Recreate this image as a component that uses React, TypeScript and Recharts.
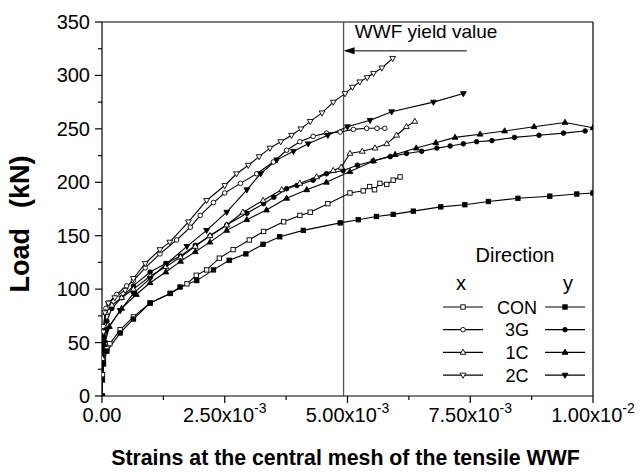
import React from 'react';
import {
  LineChart,
  Line,
  XAxis,
  YAxis,
  ReferenceLine,
  ReferenceDot,
  Legend,
} from 'recharts';

// strains are in units of 10^-3, loads in kN
const conXStrain = [0, 0.01, 0.03, 0.1, 0.16, 0.37, 0.64, 0.98, 1.39, 1.73, 1.92, 2.13, 2.39, 2.67, 3.0, 3.29, 3.7, 4.03, 4.24, 4.6, 5.05, 5.32, 5.45, 5.55, 5.66, 5.8, 5.93, 6.07];
const conXLoad = [0, 20, 35, 45, 49, 62, 74, 87, 96, 105, 113, 118, 129, 137, 146, 154, 163, 169, 172, 180, 190, 192, 196, 193, 199, 198, 202, 205];

const conYStrain = [0, 0.01, 0.03, 0.1, 0.37, 0.64, 0.98, 1.39, 1.59, 1.93, 2.27, 2.59, 2.93, 3.28, 3.62, 4.1, 4.85, 5.22, 5.59, 5.93, 6.34, 6.9, 7.39, 7.87, 8.47, 9.12, 9.67, 10];
const conYLoad = [0, 15, 30, 42, 59, 72, 87, 96, 102, 108, 118, 127, 133, 142, 149, 155, 162, 165, 168, 170, 173, 177, 179, 182, 185, 187, 189, 190];

const g3XStrain = [0, 0.01, 0.03, 0.08, 0.13, 0.3, 0.5, 0.64, 0.88, 1.18, 1.52, 1.8, 2.0, 2.27, 2.5, 2.82, 3.15, 3.49, 3.76, 4.03, 4.3, 4.57, 4.85, 5.12, 5.39, 5.6, 5.76];
const g3XLoad = [0, 35, 65, 82, 87, 95, 103, 108, 120, 133, 146, 158, 169, 181, 190, 199, 208, 219, 230, 238, 243, 246, 247, 249.5, 250.5, 250.5, 250.5];

const g3YStrain = [0, 0.01, 0.04, 0.1, 0.2, 0.4, 0.64, 0.98, 1.3, 1.6, 1.9, 2.2, 2.54, 2.95, 3.29, 3.5, 3.76, 3.97, 4.3, 4.57, 4.91, 5.2, 5.52, 5.87, 6.2, 6.51, 6.82, 7.09, 7.36, 7.63, 7.94, 8.4, 8.9, 9.4, 9.84];
const g3YLoad = [0, 30, 55, 70, 82, 92, 103, 116, 124, 131, 141, 150, 160, 171, 180, 186, 194, 197, 202, 208, 211, 216, 220, 224, 227, 229, 232, 234, 236, 238, 239, 242, 244, 246, 248];

const c1XStrain = [0, 0.01, 0.03, 0.08, 0.2, 0.4, 0.64, 0.98, 1.3, 1.6, 1.9, 2.2, 2.54, 2.87, 3.28, 3.66, 4.03, 4.37, 4.71, 4.87, 5.05, 5.3, 5.56, 5.8, 6.0, 6.2, 6.37];
const c1XLoad = [0, 35, 60, 78, 85, 92, 100, 112, 121, 130, 140, 150, 160, 172, 183, 193, 199, 205, 211, 214, 227, 229, 232, 236, 244, 252, 257];

const c1YStrain = [0, 0.02, 0.05, 0.15, 0.4, 0.7, 0.98, 1.3, 1.6, 1.9, 2.2, 2.54, 2.95, 3.35, 3.76, 4.17, 4.57, 5.05, 5.53, 5.97, 6.4, 6.8, 7.19, 7.7, 8.2, 8.8, 9.43, 10];
const c1YLoad = [0, 30, 48, 65, 82, 95, 106, 116, 126, 135, 144, 155, 165, 174, 185, 193, 200, 210, 220, 226, 232, 237, 242, 245, 248, 252, 256, 251];

const c2XStrain = [0, 0.01, 0.03, 0.06, 0.13, 0.26, 0.47, 0.64, 0.88, 1.18, 1.38, 1.76, 2.13, 2.5, 2.74, 2.98, 3.2, 3.42, 3.64, 3.86, 4.05, 4.24, 4.48, 4.71, 4.95, 5.1, 5.25, 5.4, 5.53, 5.7, 5.92];
const c2XLoad = [0, 30, 60, 78, 87, 92, 99, 110, 124, 137, 144, 163, 183, 197, 208, 216, 224, 232, 238, 244, 250, 257, 265, 275, 283, 289, 294, 298, 302, 307, 316];

const c2YStrain = [0, 0.02, 0.05, 0.1, 0.37, 0.64, 0.98, 1.32, 1.73, 2.13, 2.54, 2.95, 3.23, 3.56, 3.9, 4.2, 4.6, 5.0, 5.46, 5.9, 6.75, 7.36];
const c2YLoad = [0, 30, 50, 62, 80, 96, 110, 124, 140, 155, 172, 193, 208, 221, 229, 236, 244, 252, 258, 266, 275, 283];

const xTicks = [0, 1.25, 2.5, 3.75, 5, 6.25, 7.5, 8.75, 10];
const xMajor = [0, 2.5, 5, 7.5, 10];
const xMajorBase = ['0.00', '2.50x10', '5.00x10', '7.50x10', '1.00x10'];
const xMajorExp = ['', '-3', '-3', '-3', '-2'];

const yTicks = [0, 25, 50, 75, 100, 125, 150, 175, 200, 225, 250, 275, 300, 325, 350];
const yMajor = [0, 50, 100, 150, 200, 250, 300, 350];

const yieldStrain = 4.92;
const yieldArrowLoad = 323;
const yieldArrowEnd = 7.43;
const yieldTextStrain = 5.15;
const yieldTextLoad = 335;

const legendTypes = ['CON', '3G', '1C', '2C'];
const legendShapes = ['square', 'circle', 'up', 'down'];

const FONT = '"Liberation Sans", Arial, sans-serif';

const toPoints = (s: number[], l: number[]) => s.map((v, i) => ({ s: v, load: l[i] }));

const Marker = ({ cx, cy, shape, filled }: any) => {
  const fill = filled ? '#000' : '#fff';
  if (shape === 'square') {
    return <rect x={cx - 2.2} y={cy - 2.2} width={4.4} height={4.4} fill={fill} stroke="#000" strokeWidth={0.9} />;
  }
  if (shape === 'circle') {
    return <circle cx={cx} cy={cy} r={2.3} fill={fill} stroke="#000" strokeWidth={0.9} />;
  }
  if (shape === 'up') {
    return <path d={`M${cx},${cy - 3.2}L${cx + 2.9},${cy + 1.9}L${cx - 2.9},${cy + 1.9}Z`} fill={fill} stroke="#000" strokeWidth={0.9} />;
  }
  return <path d={`M${cx},${cy + 3.2}L${cx + 2.9},${cy - 1.9}L${cx - 2.9},${cy - 1.9}Z`} fill={fill} stroke="#000" strokeWidth={0.9} />;
};

const makeDot = (shape: string, filled: boolean) => (p: any) => {
  if (p.cx == null || p.cy == null) return <g key={`d${p.index}`} />;
  return (
    <g key={`d${p.index}`}>
      <Marker cx={p.cx} cy={p.cy} shape={shape} filled={filled} />
    </g>
  );
};

const XTick = ({ x, y, payload }: any) => {
  const idx = xMajor.indexOf(payload.value);
  const major = idx >= 0;
  return (
    <g>
      <line x1={x} y1={y} x2={x} y2={y + (major ? 7 : 4)} stroke="#000" strokeWidth={1.2} />
      {major && (
        <text x={x} y={y + 26} textAnchor="middle" fontSize={20} fontFamily={FONT} fill="#000">
          {xMajorBase[idx]}
          {xMajorExp[idx] && (
            <tspan dy={-9} fontSize={14}>
              {xMajorExp[idx]}
            </tspan>
          )}
        </text>
      )}
    </g>
  );
};

const YTick = ({ x, y, payload }: any) => {
  const major = yMajor.includes(payload.value);
  return (
    <g>
      <line x1={x} y1={y} x2={x - (major ? 7 : 4)} y2={y} stroke="#000" strokeWidth={1.2} />
      {major && (
        <text x={x - 12} y={y + 7} textAnchor="end" fontSize={20} fontFamily={FONT} fill="#000">
          {payload.value}
        </text>
      )}
    </g>
  );
};

const YTitle = ({ viewBox }: any) => {
  const cx = viewBox.x + 29;
  const cy = viewBox.y + viewBox.height / 2 + 15;
  return (
    <text
      transform={`translate(${cx},${cy}) rotate(-90)`}
      textAnchor="middle"
      fontSize={27}
      fontWeight="bold"
      fontFamily={FONT}
      fill="#000"
    >
      Load
      <tspan dx={20}>(kN)</tspan>
    </text>
  );
};

const XTitle = ({ viewBox }: any) => (
  <text
    x={viewBox.x + viewBox.width / 2 - 2}
    y={viewBox.y + viewBox.height - 10}
    textAnchor="middle"
    fontSize={21.3}
    fontWeight="bold"
    fontFamily={FONT}
    fill="#000"
  >
    Strains at the central mesh of the tensile WWF
  </text>
);

const LegendBox = () => (
  <svg width={170} height={150} style={{ display: 'block', overflow: 'visible' }}>
    <text x={83} y={22} textAnchor="middle" fontSize={20} fontFamily={FONT}>
      Direction
    </text>
    <text x={29} y={50} textAnchor="middle" fontSize={20} fontFamily={FONT}>
      x
    </text>
    <text x={136} y={50} textAnchor="middle" fontSize={20} fontFamily={FONT}>
      y
    </text>
    {legendTypes.map((name, i) => {
      const cy = 67 + i * 22.7;
      return (
        <g key={name}>
          <line x1={11} x2={51} y1={cy} y2={cy} stroke="#000" strokeWidth={1.2} />
          <Marker cx={31} cy={cy} shape={legendShapes[i]} filled={false} />
          <text x={85} y={cy + 6.5} textAnchor="middle" fontSize={18} fontFamily={FONT}>
            {name}
          </text>
          <line x1={113} x2={153} y1={cy} y2={cy} stroke="#000" strokeWidth={1.2} />
          <Marker cx={133} cy={cy} shape={legendShapes[i]} filled={true} />
        </g>
      );
    })}
  </svg>
);

const ArrowHead = ({ cx, cy }: any) => (
  <path d={`M${cx},${cy}L${cx + 11},${cy - 3.5}L${cx + 11},${cy + 3.5}Z`} fill="#000" />
);

const YieldText = ({ cx, cy }: any) => (
  <text x={cx} y={cy} fontSize={19} fontFamily={FONT} fill="#000">
    WWF yield value
  </text>
);

const series = [
  { key: 'conX', data: toPoints(conXStrain, conXLoad), shape: 'square', filled: false },
  { key: 'conY', data: toPoints(conYStrain, conYLoad), shape: 'square', filled: true },
  { key: 'g3X', data: toPoints(g3XStrain, g3XLoad), shape: 'circle', filled: false },
  { key: 'g3Y', data: toPoints(g3YStrain, g3YLoad), shape: 'circle', filled: true },
  { key: 'c1X', data: toPoints(c1XStrain, c1XLoad), shape: 'up', filled: false },
  { key: 'c1Y', data: toPoints(c1YStrain, c1YLoad), shape: 'up', filled: true },
  { key: 'c2X', data: toPoints(c2XStrain, c2XLoad), shape: 'down', filled: false },
  { key: 'c2Y', data: toPoints(c2YStrain, c2YLoad), shape: 'down', filled: true },
];

const App: React.FC = () => {
  return (
    <div style={{ position: 'absolute', left: 0, top: 0, background: '#fff' }}>
      <LineChart width={643} height={475} margin={{ top: 22, right: 50, bottom: 0, left: 0 }}>
        <XAxis
          dataKey="s"
          type="number"
          domain={[0, 10]}
          ticks={xTicks}
          interval={0}
          allowDataOverflow
          height={79}
          tickSize={0}
          tickMargin={0}
          tickLine={false}
          axisLine={{ stroke: '#000', strokeWidth: 1.2 }}
          tick={<XTick />}
          label={<XTitle />}
        />
        <YAxis
          type="number"
          domain={[0, 350]}
          ticks={yTicks}
          interval={0}
          allowDataOverflow
          width={102}
          tickSize={0}
          tickMargin={0}
          tickLine={false}
          axisLine={{ stroke: '#000', strokeWidth: 1.2 }}
          tick={<YTick />}
          label={<YTitle />}
        />
        <ReferenceLine y={350} stroke="#000" strokeWidth={1.2} />
        <ReferenceLine x={10} stroke="#000" strokeWidth={1.2} />
        <ReferenceLine x={yieldStrain} stroke="#555" strokeWidth={1.3} />
        <ReferenceLine
          segment={[
            { x: yieldArrowEnd, y: yieldArrowLoad },
            { x: yieldStrain + 0.1, y: yieldArrowLoad },
          ]}
          stroke="#000"
          strokeWidth={1}
        />
        <ReferenceDot x={yieldStrain} y={yieldArrowLoad} shape={<ArrowHead />} />
        <ReferenceDot x={yieldTextStrain} y={yieldTextLoad} shape={<YieldText />} />
        {series.map((sr) => (
          <Line
            key={sr.key}
            data={sr.data}
            dataKey="load"
            type="linear"
            stroke="#000"
            strokeWidth={1.1}
            dot={makeDot(sr.shape, sr.filled)}
            activeDot={false}
            legendType="none"
            isAnimationActive={false}
          />
        ))}
        <Legend
          layout="vertical"
          align="center"
          verticalAlign="middle"
          content={<LegendBox />}
          wrapperStyle={{ left: 432, top: 240, width: 170, height: 150 }}
        />
      </LineChart>
    </div>
  );
};

export default App;
